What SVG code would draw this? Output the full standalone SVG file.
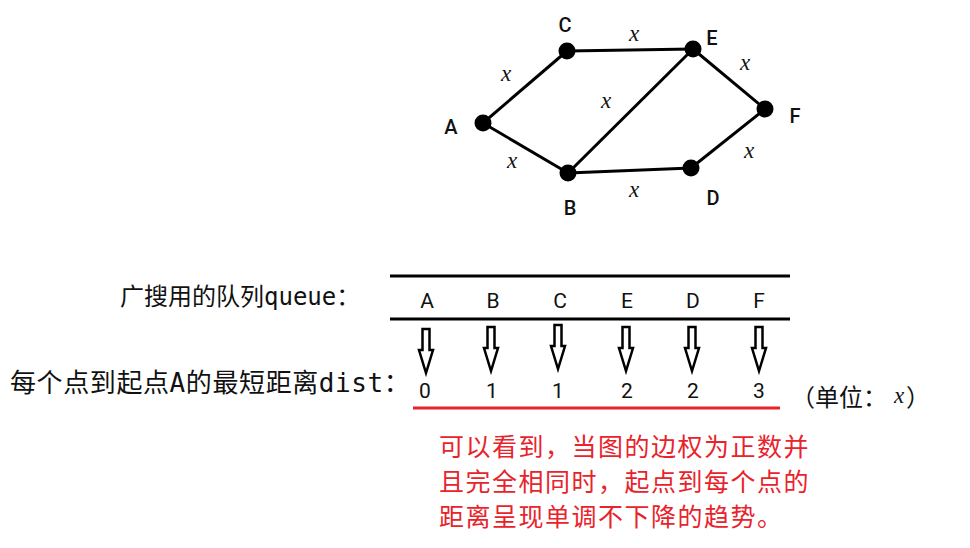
<svg xmlns="http://www.w3.org/2000/svg" xmlns:xlink="http://www.w3.org/1999/xlink" width="970" height="548" viewBox="0 0 970 548">
<style>
.edge{stroke:#000;stroke-width:3;fill:none}
.dot{fill:#000}
.nlab{font-family:Roboto,"DejaVu Sans Condensed",sans-serif;font-size:20px;font-weight:500;fill:#111;text-anchor:middle}
.ex{font-family:"Liberation Serif","DejaVu Serif",serif;font-style:italic;font-size:23px;fill:#111;text-anchor:middle}
.tl{font-family:Roboto,"DejaVu Sans Condensed",sans-serif;font-size:21px;fill:#111;text-anchor:middle}
.lab{font-family:"DejaVu Sans Mono","Noto Sans CJK SC",monospace;fill:#111}
.red{font-family:"Noto Sans CJK SC",sans-serif;font-size:25px;fill:#e8232b;letter-spacing:1.5px}
.arr{fill:#fff;stroke:#000;stroke-width:2.5;stroke-linejoin:miter}
.rule{stroke:#000;stroke-width:3}
</style>
<defs>
<path id="darr" class="arr" d="M-3.5,0 H3.5 V21 H7 L0,44 L-7,21 H-3.5 Z"/>
</defs>
<rect width="970" height="548" fill="#fff"/>
<g id="connectors">
<line class="edge" x1="483" y1="123" x2="567" y2="51"/>
<line class="edge" x1="567" y1="51" x2="693" y2="49"/>
<line class="edge" x1="693" y1="49" x2="765" y2="109"/>
<line class="edge" x1="765" y1="109" x2="691" y2="168"/>
<line class="edge" x1="691" y1="168" x2="568" y2="173"/>
<line class="edge" x1="568" y1="173" x2="483" y2="123"/>
<line class="edge" x1="568" y1="173" x2="693" y2="49"/>
<text class="ex" x="506" y="81">x</text>
<text class="ex" x="634" y="41">x</text>
<text class="ex" x="606" y="108">x</text>
<text class="ex" x="745" y="70">x</text>
<text class="ex" x="749" y="158">x</text>
<text class="ex" x="512" y="168">x</text>
<text class="ex" x="634" y="197">x</text>
</g>
<g id="node-A"><circle class="dot" cx="483" cy="123" r="8.5"/><text class="nlab" x="451" y="134">A</text></g>
<g id="node-B"><circle class="dot" cx="568" cy="173" r="8.5"/><text class="nlab" x="570" y="215">B</text></g>
<g id="node-C"><circle class="dot" cx="567" cy="51" r="8.5"/><text class="nlab" x="565" y="32">C</text></g>
<g id="node-D"><circle class="dot" cx="691" cy="168" r="8.5"/><text class="nlab" x="713" y="205">D</text></g>
<g id="node-E"><circle class="dot" cx="693" cy="49" r="8.5"/><text class="nlab" x="712" y="45">E</text></g>
<g id="node-F"><circle class="dot" cx="765" cy="109" r="8.5"/><text class="nlab" x="795" y="123">F</text></g>
<g id="queue-table">
<line class="rule" x1="390" y1="276" x2="790" y2="276"/>
<line class="rule" x1="390" y1="319" x2="790" y2="319"/>
<text class="tl" x="427" y="308">A</text>
<text class="tl" x="493" y="308">B</text>
<text class="tl" x="560" y="308">C</text>
<text class="tl" x="627" y="308">E</text>
<text class="tl" x="693" y="308">D</text>
<text class="tl" x="759" y="308">F</text>
</g>
<g id="arrows">
<use xlink:href="#darr" x="426" y="329"/>
<use xlink:href="#darr" x="491" y="327"/>
<use xlink:href="#darr" x="558" y="325"/>
<use xlink:href="#darr" x="626" y="327"/>
<use xlink:href="#darr" x="692" y="327"/>
<use xlink:href="#darr" x="759" y="327"/>
</g>
<g id="dist-row">
<text class="tl" x="425" y="398">0</text>
<text class="tl" x="492" y="398">1</text>
<text class="tl" x="558" y="398">1</text>
<text class="tl" x="627" y="398">2</text>
<text class="tl" x="693" y="398">2</text>
<text class="tl" x="759" y="398">3</text>
<line x1="413" y1="408" x2="780" y2="408" stroke="#e8232b" stroke-width="3"/>
<text class="lab" x="791" y="406" font-size="24" font-family="Noto Sans CJK SC, sans-serif">（单位：</text>
<text class="ex" x="899" y="403">x</text>
<text class="lab" x="906" y="406" font-size="24" font-family="Noto Sans CJK SC, sans-serif">）</text>
</g>
<g id="labels">
<text class="lab" x="120" y="305" font-size="24">广搜用的队列queue：</text>
<text class="lab" x="10" y="392" font-size="26" letter-spacing="0.6">每个点到起点A的最短距离dist：</text>
</g>
<g id="note">
<text class="red" x="439" y="456">可以看到，当图的边权为正数并</text>
<text class="red" x="439" y="491">且完全相同时，起点到每个点的</text>
<text class="red" x="439" y="526">距离呈现单调不下降的趋势。</text>
</g>
</svg>
